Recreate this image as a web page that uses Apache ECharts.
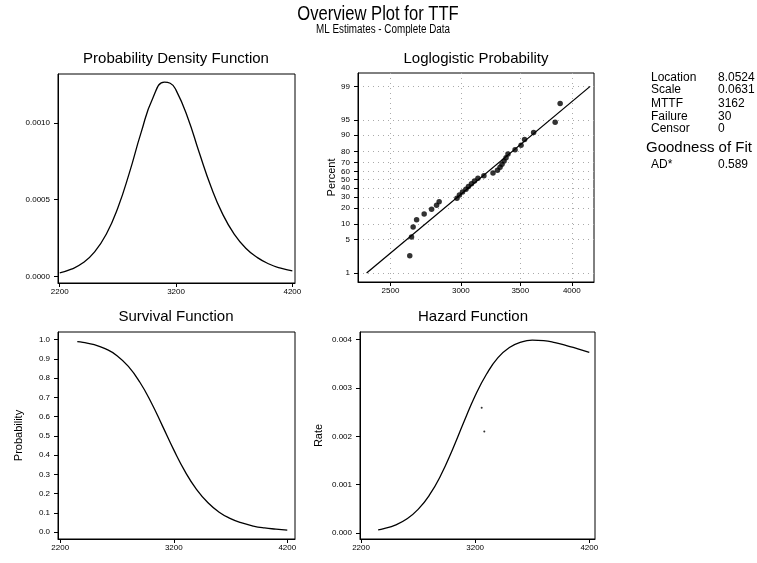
<!DOCTYPE html>
<html><head><meta charset="utf-8">
<script src="https://cdn.jsdelivr.net/npm/echarts@6/dist/echarts.min.js"></script>
<style>html,body{margin:0;padding:0;background:#fff}#c{width:757px;height:563px}</style>
</head><body><div id="c"></div>
<script>
// ---- data ----
const pdfT = [2200,2300,2400,2500,2600,2700,2800,2900,3000,3100,3150,3200,3300,3400,3500,3600,3700,3800,3900,4000,4100,4200];
const pdfVal = [0.0000253,0.0000486,0.0000901,0.000161,0.000276,0.000448,0.000678,0.000938,0.00116,0.001264,0.001257,0.001212,0.001035,0.000805,0.000586,0.000408,0.000277,0.000185,0.000124,0.0000826,0.0000552,0.0000371];

const survT = [2350,2400,2500,2600,2700,2800,2900,3000,3100,3200,3300,3400,3500,3600,3700,3800,3900,4000,4100,4200];
const survVal = [0.990,0.986,0.974,0.952,0.917,0.861,0.780,0.675,0.552,0.427,0.314,0.222,0.153,0.103,0.070,0.047,0.031,0.021,0.015,0.010];

const hazT = [2350,2400,2500,2600,2700,2800,2900,3000,3100,3200,3300,3400,3500,3600,3700,3800,3900,4000,4100,4200];
const hazVal = [0.000067,0.000091,0.000165,0.000290,0.000489,0.000787,0.00120,0.00172,0.00229,0.00284,0.00329,0.00363,0.00384,0.00395,0.00399,0.00398,0.00394,0.00388,0.00381,0.00374];
const hazDotT = [3257,3280];
const hazDotVal = [0.00259,0.00210];

const failTimes = [2628,2640,2651,2675,2728,2781,2817,2836,2970,2989,3013,3040,3060,3084,3108,3136,3185,3261,3299,3321,3338,3356,3373,3390,3453,3507,3539,3623,3831,3881];
const failPct = [2.3,5.6,8.9,12.2,15.5,18.8,22.0,25.3,28.6,31.9,35.2,38.5,41.8,45.1,48.4,51.6,54.9,58.2,61.5,64.8,68.1,71.4,74.7,78.0,81.3,84.5,87.8,91.1,94.4,97.7];
const fitT = [2350,4195];
const fitPct = [1,99];

const pdfXTicks = [2200,3200,4200];
const pdfYTicks = [0,0.0005,0.0010];
const probXTicks = [2500,3000,3500,4000];
const probYTicks = [1,5,10,20,30,40,50,60,70,80,90,95,99];
const survXTicks = [2200,3200,4200];
const survYTicks = [0,0.1,0.2,0.3,0.4,0.5,0.6,0.7,0.8,0.9,1.0];
const hazXTicks = [2200,3200,4200];
const hazYTicks = [0,0.001,0.002,0.003,0.004];

const statLabels = ['Location','Scale','MTTF','Failure','Censor'];
const statValues = ['8.0524','0.0631','3162','30','0'];
const gofLabels = ['AD*'];
const gofValues = ['0.589'];

// ---- helpers ----
const FF = '"Liberation Sans", Arial, sans-serif';
const lnT = t => Math.log(t);
const logit = p => Math.log(p / (100 - p));
const invLogit = v => 100 / (1 + Math.exp(-v));

function xAxis(gi, min, max, ticks, fmt, split) {
  return {
    type: 'value', gridIndex: gi, min: min, max: max,
    axisLine: {show: true, onZero: false, lineStyle: {color: '#000', width: 1}},
    axisTick: {show: true, customValues: ticks, length: 4, lineStyle: {color: '#000'}},
    axisLabel: {customValues: ticks, formatter: fmt, fontSize: 8, color: '#000', margin: 5, fontFamily: FF},
    splitLine: {show: !!split, lineStyle: {color: '#aaa', type: [1, 4], width: 1}}
  };
}
function yAxis(gi, min, max, ticks, fmt, name, gap, split) {
  return {
    type: 'value', gridIndex: gi, min: min, max: max,
    name: name || '', nameLocation: 'middle', nameGap: gap || 30, nameRotate: 90,
    nameTextStyle: {fontSize: 11, color: '#000', fontFamily: FF},
    axisLine: {show: true, onZero: false, lineStyle: {color: '#000', width: 1}},
    axisTick: {show: true, customValues: ticks, length: 4, lineStyle: {color: '#000'}},
    axisLabel: {customValues: ticks, formatter: fmt, fontSize: 8, color: '#000', margin: 8, fontFamily: FF},
    splitLine: {show: !!split, lineStyle: {color: '#aaa', type: [1, 4], width: 1}}
  };
}
const lineStyle = {color: '#000', width: 1.3};

const texts = [];
function txt(s, x, y, size, align, sx) {
  texts.push({type: 'text', silent: true, x: x, y: y, scaleX: sx || 1,
    style: {text: s, x: 0, y: 0, fill: '#000',
    font: size + 'px ' + FF, textAlign: align || 'left', textVerticalAlign: 'middle'}});
}
txt('Overview Plot for TTF', 378, 14, 20, 'center', 0.83);
txt('ML Estimates - Complete Data', 383, 30, 12, 'center', 0.82);
txt('Probability Density Function', 176, 59, 15, 'center');
txt('Loglogistic Probability', 476, 59, 15, 'center');
txt('Survival Function', 176, 317, 15, 'center');
txt('Hazard Function', 473, 317, 15, 'center');
const statY = [78, 90, 104, 117, 129];
statLabels.forEach((s, i) => { txt(s, 651, statY[i], 12); txt(statValues[i], 718, statY[i], 12); });
txt('Goodness of Fit', 646, 148, 15);
gofLabels.forEach((s, i) => { txt(s, 651, 165, 12); txt(gofValues[i], 718, 165, 12); });

const option = {
  backgroundColor: '#fff',
  animation: false,
  grid: [
    {left: 58, top: 74, width: 237, height: 209, show: true, borderColor: '#000', borderWidth: 1, outerBoundsMode: 'none'},
    {left: 358, top: 73, width: 236, height: 209, show: true, borderColor: '#000', borderWidth: 1, outerBoundsMode: 'none'},
    {left: 58, top: 332, width: 237, height: 207, show: true, borderColor: '#000', borderWidth: 1, outerBoundsMode: 'none'},
    {left: 360, top: 332, width: 235, height: 207, show: true, borderColor: '#000', borderWidth: 1, outerBoundsMode: 'none'}
  ],
  xAxis: [
    xAxis(0, 2185, 4223, pdfXTicks, v => String(Math.round(v))),
    xAxis(1, lnT(2298), lnT(4237), probXTicks.map(lnT), v => String(Math.round(Math.exp(v))), true),
    xAxis(2, 2180, 4268, survXTicks, v => String(Math.round(v))),
    xAxis(3, 2191, 4250, hazXTicks, v => String(Math.round(v)))
  ],
  yAxis: [
    yAxis(0, -0.000041, 0.001317, pdfYTicks, v => v.toFixed(4)),
    yAxis(1, logit(0.643), logit(99.48), probYTicks.map(logit), v => String(Math.round(invLogit(v))), 'Percent', 21, true),
    yAxis(2, -0.0364, 1.04, survYTicks, v => v.toFixed(1), 'Probability', 34),
    yAxis(3, -0.000124, 0.00416, hazYTicks, v => v.toFixed(3), 'Rate', 36)
  ],
  series: [
    {type: 'line', xAxisIndex: 0, yAxisIndex: 0, smooth: true, showSymbol: false, lineStyle: lineStyle,
      data: pdfT.map((t, i) => [t, pdfVal[i]])},
    {type: 'line', xAxisIndex: 1, yAxisIndex: 1, showSymbol: false, lineStyle: lineStyle,
      data: fitT.map((t, i) => [lnT(t), logit(fitPct[i])])},
    {type: 'scatter', xAxisIndex: 1, yAxisIndex: 1, symbol: 'circle', symbolSize: 5.5,
      itemStyle: {color: '#000'},
      data: failTimes.map((t, i) => [lnT(t), logit(failPct[i])])},
    {type: 'line', xAxisIndex: 2, yAxisIndex: 2, smooth: true, showSymbol: false, lineStyle: lineStyle,
      data: survT.map((t, i) => [t, survVal[i]])},
    {type: 'line', xAxisIndex: 3, yAxisIndex: 3, smooth: true, showSymbol: false, lineStyle: lineStyle,
      data: hazT.map((t, i) => [t, hazVal[i]])},
    {type: 'scatter', xAxisIndex: 3, yAxisIndex: 3, symbol: 'circle', symbolSize: 2,
      itemStyle: {color: '#000'},
      data: hazDotT.map((t, i) => [t, hazDotVal[i]])}
  ],
  graphic: texts
};
const chart = echarts.init(document.getElementById('c'), null, {renderer: 'canvas'});
chart.setOption(option);
</script>
</body></html>
